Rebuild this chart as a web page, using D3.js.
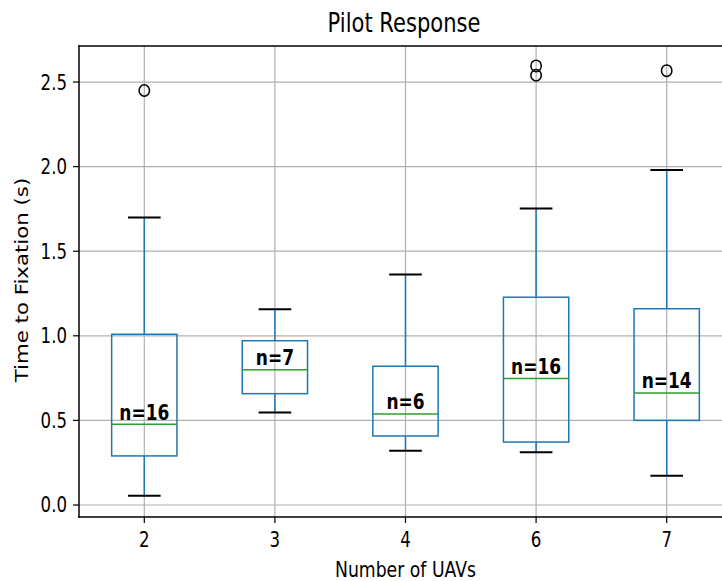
<!DOCTYPE html>
<html>
<head>
<meta charset="utf-8">
<script src="https://cdn.jsdelivr.net/npm/d3@7"></script>
<style>
  html, body { margin: 0; background: #fff; overflow: hidden; }
  svg { display: block; }
  text { font-family: "DejaVu Sans", sans-serif; fill: #000; }
</style>
</head>
<body>
<figure id="chart" style="margin:0"></figure>
<script>
const categories = ['2', '3', '4', '6', '7'];
const whiskerLow = [0.055, 0.546, 0.321, 0.311, 0.173];
const q1 = [0.29, 0.658, 0.408, 0.372, 0.50];
const medians = [0.477, 0.80, 0.538, 0.747, 0.662];
const q3 = [1.009, 0.971, 0.82, 1.228, 1.16];
const whiskerHigh = [1.70, 1.157, 1.363, 1.753, 1.98];
const outliers = [[2.45], [], [], [2.54, 2.595], [2.567]];
const counts = [16, 7, 6, 16, 14];
const yTicks = [0, 0.5, 1, 1.5, 2, 2.5];

const width = 722, height = 581;
const mLeft = 79, mRight = 732, mTop = 46, mBottom = 517;
const sx = 0.81; // picture is squeezed horizontally

const boxes = categories.map((c, i) => ({
  cat: c, i: i + 1, lo: whiskerLow[i], q1: q1[i], med: medians[i],
  q3: q3[i], hi: whiskerHigh[i], out: outliers[i], n: counts[i]
}));

const svg = d3.select('figure#chart').append('svg')
  .attr('width', width).attr('height', height);

const xScale = d3.scaleLinear().domain([0.5, 5.5]).range([mLeft, mRight]);
const yScale = d3.scaleLinear().domain([-0.071, 2.713]).range([mBottom, mTop]);

// helper for squeezed text
function label(g, x, y, txt, size, anchor, extra) {
  return g.append('text')
    .attr('transform', `translate(${x},${y}) scale(${sx},1)` + (extra || ''))
    .attr('text-anchor', anchor)
    .style('font-size', size + 'px')
    .text(txt);
}

// grid
svg.append('g').selectAll('line').data(yTicks).join('line')
  .attr('x1', mLeft).attr('x2', mRight)
  .attr('y1', d => yScale(d)).attr('y2', d => yScale(d))
  .attr('stroke', '#b0b0b0').attr('stroke-width', 1.2);
svg.append('g').selectAll('line').data(boxes).join('line')
  .attr('x1', d => xScale(d.i)).attr('x2', d => xScale(d.i))
  .attr('y1', mTop).attr('y2', mBottom)
  .attr('stroke', '#b0b0b0').attr('stroke-width', 1.2);

const bw = xScale(1.25) - xScale(1); // half box width
const cw = xScale(1.125) - xScale(1); // half cap width
const g = svg.append('g');

// whiskers
g.append('g').selectAll('line').data(boxes).join('line')
  .attr('x1', d => xScale(d.i)).attr('x2', d => xScale(d.i))
  .attr('y1', d => yScale(d.lo)).attr('y2', d => yScale(d.q1))
  .attr('stroke', '#1f77b4').attr('stroke-width', 1.5);
g.append('g').selectAll('line').data(boxes).join('line')
  .attr('x1', d => xScale(d.i)).attr('x2', d => xScale(d.i))
  .attr('y1', d => yScale(d.q3)).attr('y2', d => yScale(d.hi))
  .attr('stroke', '#1f77b4').attr('stroke-width', 1.5);
// caps
g.append('g').selectAll('line').data(boxes).join('line')
  .attr('x1', d => xScale(d.i) - cw).attr('x2', d => xScale(d.i) + cw)
  .attr('y1', d => yScale(d.lo)).attr('y2', d => yScale(d.lo))
  .attr('stroke', '#000').attr('stroke-width', 2);
g.append('g').selectAll('line').data(boxes).join('line')
  .attr('x1', d => xScale(d.i) - cw).attr('x2', d => xScale(d.i) + cw)
  .attr('y1', d => yScale(d.hi)).attr('y2', d => yScale(d.hi))
  .attr('stroke', '#000').attr('stroke-width', 2);
// boxes
g.append('g').selectAll('rect').data(boxes).join('rect')
  .attr('x', d => xScale(d.i) - bw).attr('width', 2 * bw)
  .attr('y', d => yScale(d.q3)).attr('height', d => yScale(d.q1) - yScale(d.q3))
  .attr('fill', 'none').attr('stroke', '#1f77b4').attr('stroke-width', 1.5);
// medians
g.append('g').selectAll('line').data(boxes).join('line')
  .attr('x1', d => xScale(d.i) - bw).attr('x2', d => xScale(d.i) + bw)
  .attr('y1', d => yScale(d.med)).attr('y2', d => yScale(d.med))
  .attr('stroke', '#2ca02c').attr('stroke-width', 1.5);
// outliers
const outs = boxes.flatMap(d => d.out.map(v => ({ i: d.i, v })));
g.append('g').selectAll('ellipse').data(outs).join('ellipse')
  .attr('cx', d => xScale(d.i)).attr('cy', d => yScale(d.v))
  .attr('rx', 5.2).attr('ry', 5.8)
  .attr('fill', 'none').attr('stroke', '#000').attr('stroke-width', 1.5);

// n= labels
boxes.forEach(d => {
  label(svg, xScale(d.i), yScale(d.med) - 4.5, 'n=' + d.n, 21, 'middle')
    .style('font-weight', 'bold');
});

// spines (right one falls outside the window)
const spines = [
  [mLeft, mTop, mLeft, mBottom],
  [mLeft, mTop, width, mTop],
  [mLeft, mBottom, width, mBottom]
];
svg.append('g').selectAll('line').data(spines).join('line')
  .attr('x1', d => d[0]).attr('y1', d => d[1])
  .attr('x2', d => d[2]).attr('y2', d => d[3])
  .attr('stroke', '#000').attr('stroke-width', 1.5)
  .attr('stroke-linecap', 'square');

// y axis ticks
const yAxis = svg.append('g');
yTicks.forEach(t => {
  yAxis.append('line').attr('x1', mLeft - 6).attr('x2', mLeft)
    .attr('y1', yScale(t)).attr('y2', yScale(t))
    .attr('stroke', '#000').attr('stroke-width', 1.2);
  label(yAxis, mLeft - 12, yScale(t) + 7.5, d3.format('.1f')(t), 20.5, 'end');
});
// x axis ticks
const xAxis = svg.append('g');
boxes.forEach(d => {
  xAxis.append('line').attr('x1', xScale(d.i)).attr('x2', xScale(d.i))
    .attr('y1', mBottom).attr('y2', mBottom + 6)
    .attr('stroke', '#000').attr('stroke-width', 1.2);
  label(xAxis, xScale(d.i), 546.5, d.cat, 20.5, 'middle');
});

// titles
label(svg, 404, 32.3, 'Pilot Response', 26, 'middle');
label(svg, 405.5, 577, 'Number of UAVs', 21.3, 'middle');
label(svg, 28, 280, 'Time to Fixation (s)', 21.3, 'middle', ' rotate(-90)');
</script>
</body>
</html>
